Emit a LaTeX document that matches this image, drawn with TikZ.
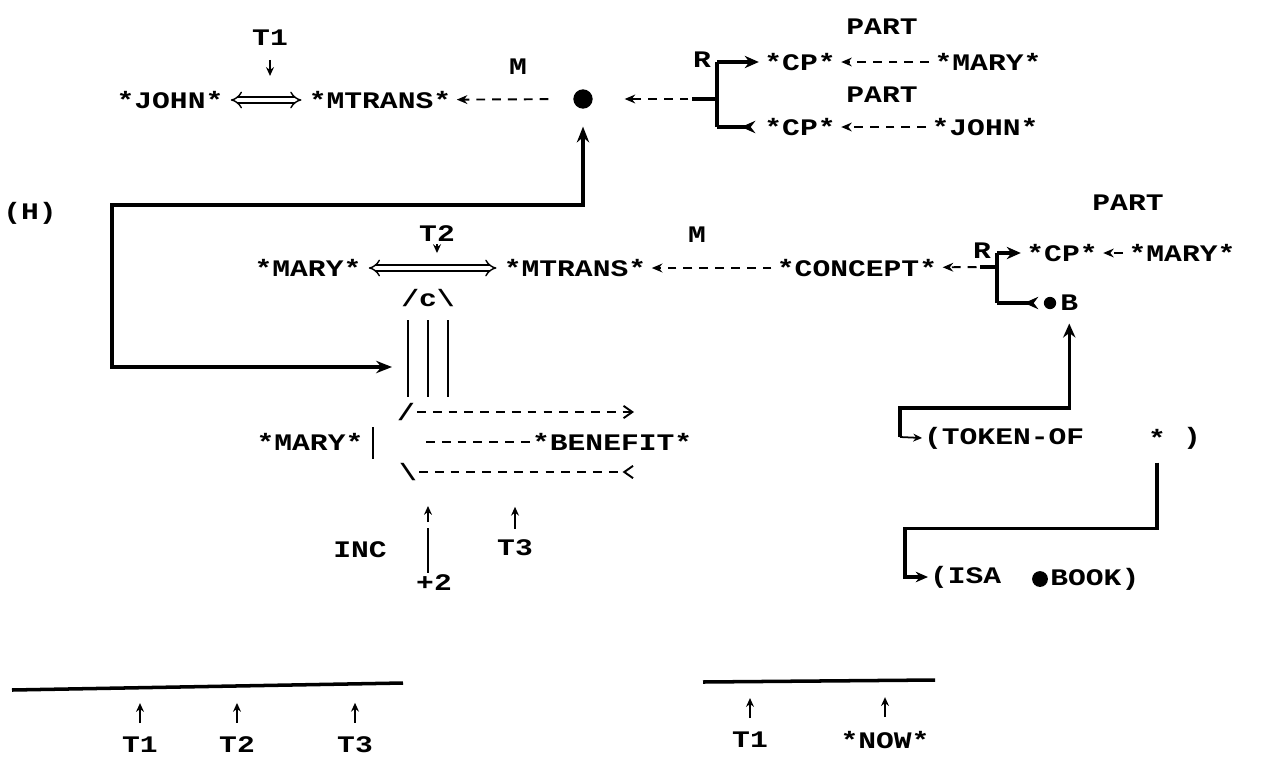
\documentclass[tikz,border=0pt]{standalone}
\usepackage{fontspec}
\newfontfamily\cdfont[FakeStretch=1.25]{Liberation Mono}
\usetikzlibrary{positioning, arrows.meta, calc}

\begin{document}
\begin{tikzpicture}[
    x=0.02cm, y=-0.02cm,
    cdtxt/.style={font=\cdfont\bfseries\fontsize{13.5pt}{16pt}\selectfont, inner sep=1pt},
    dashar/.style={line width=1.1pt, dash pattern=on 5pt off 4pt, -{Stealth[length=6pt, width=5pt]}, shorten >=2pt, shorten <=2pt},
    dashline/.style={line width=1.1pt, dash pattern=on 5pt off 4pt},
    twoway/.style={{Implies}-{Implies}, double, double distance=2.5pt, line width=0.8pt, shorten >=3pt, shorten <=3pt},
    heavy/.style={line width=2pt},
    heavyar/.style={heavy, -{Stealth[length=8pt, width=7pt]}, shorten >=2pt},
    heavyback/.style={heavy, -{Stealth[length=8pt, width=7pt, reversed]}, shorten >=4pt},
    timear/.style={line width=1pt, -{Stealth[length=5pt, width=4.5pt]}},
    blob/.style={circle, fill, inner sep=0pt, minimum size=11pt}
]

% page
\fill[white] (0,0) rectangle (1274,761);
\useasboundingbox (0,0) rectangle (1274,761);

% JOHN MTRANS (first line)
\node[cdtxt] (john) at (170,100) {*JOHN*};
\node[cdtxt] (mtransA) at (380,100) {*MTRANS*};
\node[cdtxt] (tA) at (270,38) {T1};
\node[cdtxt] (mA) at (518,67) {M};
\node[blob] (dotA) at (583,99) {};
\draw[twoway] (john) -- (mtransA);
\draw[timear] (tA.south) ++(0,12) -- ++(0,16);
\draw[dashar, shorten <=14pt] (dotA) -- (mtransA);

% R bracket behind the dot
\coordinate (brA) at (717,99);
\coordinate (brAstub) at (692,99);
\coordinate (brAtop) at (717,62);
\coordinate (brAbot) at (717,127);
\draw[heavy] (brAtop) -- (brAbot);
\draw[heavy] (brA) -- (brAstub);
\draw[dashar, shorten >=18pt] (brAstub) -- (dotA);
\node[cdtxt, anchor=east] (rA) at (713,60) {R};
\node[cdtxt] (cpA) at (800,62) {*CP*};
\node[cdtxt] (maryA) at (988,62) {*MARY*};
\node[cdtxt] (partA) at (882,27) {PART};
\draw[heavyar] (brAtop) -- (cpA);
\draw[dashar] (maryA) -- (cpA);
\node[cdtxt] (cpB) at (800,127) {*CP*};
\node[cdtxt] (johnB) at (985,127) {*JOHN*};
\node[cdtxt] (partB) at (882,95) {PART};
\draw[heavyback] (brAbot) -- (cpB);
\draw[dashar] (johnB) -- (cpB);

% (H) loop back into the c link
\node[cdtxt] (hlab) at (30,213) {(H)};
\coordinate (hin) at (392,367);
\coordinate (hturn) at (112,205);
\draw[heavy, {Stealth[length=9pt, width=7pt]}-{Stealth[length=9pt, width=7pt]}, shorten >=10pt] (hin) -| (hturn) -| (dotA);

% MARY MTRANS CONCEPT (second line)
\node[cdtxt] (maryB) at (308,268) {*MARY*};
\node[cdtxt] (mtransB) at (575,268) {*MTRANS*};
\node[cdtxt] (tB) at (437,234) {T2};
\draw[timear] (tB.south) -- ++(0,9);
\draw[twoway] (maryB) -- (mtransB);
\node[cdtxt] (mB) at (697,235) {M};
\node[cdtxt] (concept) at (857,268) {*CONCEPT*};
\draw[dashar] (concept) -- (mtransB);

% R bracket behind CONCEPT
\coordinate (brB) at (997,267);
\coordinate (brBstub) at (980,267);
\coordinate (brBtop) at (997,253);
\coordinate (brBbot) at (997,303);
\draw[heavy] (brBtop) -- (brBbot);
\draw[heavy] (brB) -- (brBstub);
\draw[dashar] (brBstub) -- (concept);
\node[cdtxt, anchor=east] (rB) at (993,251) {R};
\node[cdtxt] (cpC) at (1062,253) {*CP*};
\node[cdtxt] (maryC) at (1182,253) {*MARY*};
\node[cdtxt] (partC) at (1128,203) {PART};
\draw[heavyar] (brBtop) -- (cpC);
\draw[dashar] (maryC) -- (cpC);
\node[blob, minimum size=7pt] (bdot) at (1050,303) {};
\node[cdtxt, right=1pt of bdot] (bB) {B};
\draw[heavyback, shorten >=3pt] (brBbot) -- (bdot);

% TOKEN-OF and ISA
\coordinate (tokturn) at (900,437);
\coordinate (isaturn) at (905,577);
\node[cdtxt, anchor=west] (tok) at (922,438) {(TOKEN-OF};
\node[cdtxt] (tstar) at (1157,438) {*};
\node[cdtxt] (tclose) at (1192,438) {)};
\draw[heavy, -{Stealth[length=8pt, width=7pt]}, shorten >=6pt] (tokturn) |- ($(bB.south)+(0,95)$) -- (bB.south);
\draw[timear] (tokturn) -- (tok.west);
\node[cdtxt, anchor=west] (isa) at (928,577) {(ISA};
\node[blob, minimum size=9pt] (bookdot) at (1040,579) {};
\node[cdtxt, right=0pt of bookdot] (book) {BOOK)};
\draw[heavy, -{Stealth[length=7pt, width=6pt]}] (tstar.south) ++(0,14) -- ++(0,66) -| (isaturn) -- (isa.west);

% c link
\node[cdtxt] (cnode) at (428,298) {/c\textbackslash};
\foreach \dx in {-20,0,20}
  \draw[line width=1.2pt] ($(cnode.center)+(\dx,22)$) -- ++(0,77);

% BENEFIT
\node[cdtxt] (maryD) at (310,442) {*MARY*};
\node[cdtxt, anchor=west] (benefit) at (530,442) {*BENEFIT*};
\coordinate (bartop) at (373,427);
\coordinate (barbot) at (373,459);
\draw[line width=1.3pt] (bartop) -- (barbot);
\node[cdtxt] (slash) at (406,412) {/};
\coordinate (upend) at (634,412);
\draw[dashline, -{Straight Barb[length=5pt, width=7pt]}] (slash.east) -- (upend);
\coordinate (midstart) at (426,442);
\draw[dashline] (midstart) -- (benefit.west);
\node[cdtxt] (bslash) at (408,472) {\textbackslash};
\coordinate (lowend) at (634,472);
\draw[dashline, -{Straight Barb[length=5pt, width=7pt, reversed]}] (bslash.east) -- (lowend);

% INC and T3
\node[cdtxt] (inc) at (360,550) {INC};
\node[cdtxt] (plustwo) at (434,583) {+2};
\coordinate (incup) at (428,506);
\draw[line width=0.8pt] (incup |- plustwo.north) -- ++(0,-45);
\draw[timear] ($(incup)+(0,16)$) -- (incup);
\node[cdtxt] (tC) at (515,548) {T3};
\draw[timear] (tC.north) ++(0,-9) -- ++(0,-22);

% time lines
\coordinate (lineAl) at (12,690);
\coordinate (lineAr) at (403,683);
\draw[line width=2pt] (lineAl) -- (lineAr);
\foreach \x/\t in {140/T1, 237/T2, 355/T3} {
  \node[cdtxt] (b\t) at (\x,745) {\t};
  \draw[timear] (b\t.north) ++(0,-12) -- ++(0,-20);
}
\coordinate (lineBl) at (703,682);
\coordinate (lineBr) at (935,680);
\draw[line width=2pt] (lineBl) -- (lineBr);
\node[cdtxt] (cT) at (750,740) {T1};
\node[cdtxt] (now) at (885,740) {*NOW*};
\draw[timear] (cT.north) ++(0,-12) -- ++(0,-20);
\draw[timear] (now.north) ++(0,-12) -- ++(0,-20);

\end{tikzpicture}
\end{document}
